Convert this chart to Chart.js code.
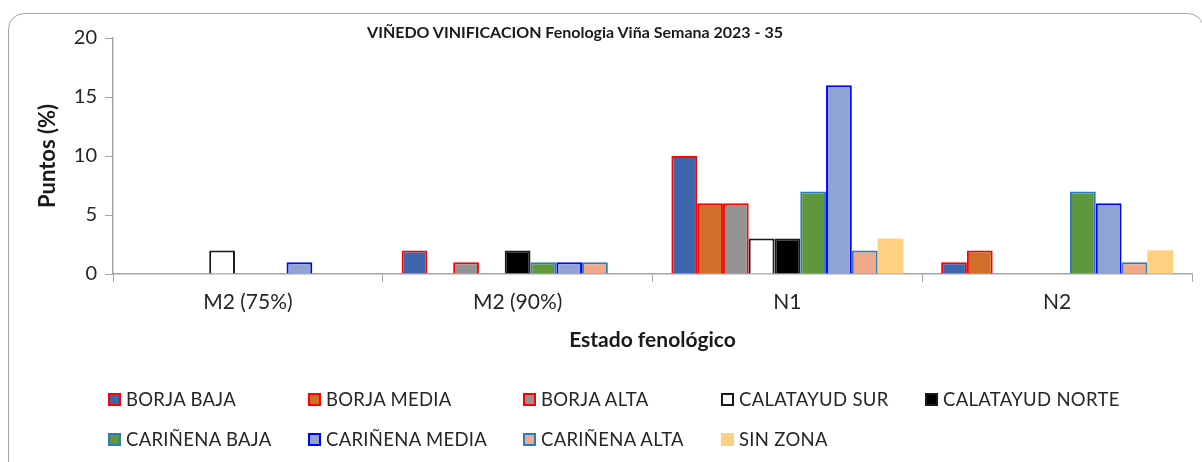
<!DOCTYPE html>
<html>
<head>
<meta charset="utf-8">
<script src="https://cdn.jsdelivr.net/npm/chart.js@4/dist/chart.umd.min.js"></script>
<style>
  body { margin: 0; background: #fff; font-family: Lato, "Open Sans", sans-serif; }
  #wrap { position: relative; width: 1202px; height: 462px; overflow: hidden; }
  #frame { position: absolute; left: 8px; top: 13px; width: 1194px; height: 470px;
           border: 1px solid #a6a6a6; border-radius: 16px; }
  #title { position: absolute; left: 575px; top: 22px; transform: translateX(-50%);
           font-weight: bold; font-size: 16px; color: #1a1a1a; white-space: nowrap; }
  #legend { position: absolute; left: 0; top: 0; }
  .item { position: absolute; display: flex; align-items: center; font-size: 18.5px;
          color: #262626; white-space: nowrap; letter-spacing: 0.3px; }
  .box { width: 13px; height: 13px; box-sizing: border-box; margin-right: 5px; }
</style>
</head>
<body>
<div id="wrap">
  <canvas id="chart" width="1202" height="462"></canvas>
  <div id="frame"></div>
  <div id="title">VIÑEDO VINIFICACION Fenologia Viña Semana 2023 - 35</div>
  <div id="legend"></div>
</div>
<script>
const categories = ["M2 (75%)", "M2 (90%)", "N1", "N2"];

const borjaBaja = [0, 2, 10, 1];
const borjaMedia = [0, 0, 6, 2];
const borjaAlta = [0, 1, 6, 0];
const calatayudSur = [2, 0, 3, 0];
const calatayudNorte = [0, 2, 3, 0];
const carinenaBaja = [0, 1, 7, 7];
const carinenaMedia = [1, 1, 16, 6];
const carinenaAlta = [0, 1, 2, 1];
const sinZona = [0, 0, 3, 2];

const yTicks = [0, 5, 10, 15, 20];

const series = [
  { label: "BORJA BAJA", data: borjaBaja, fill: "#3f65ad", line: "#ff0000" },
  { label: "BORJA MEDIA", data: borjaMedia, fill: "#d16e2a", line: "#ff0000" },
  { label: "BORJA ALTA", data: borjaAlta, fill: "#939393", line: "#ff0000" },
  { label: "CALATAYUD SUR", data: calatayudSur, fill: "#ffffff", line: "#1a1a1a" },
  { label: "CALATAYUD NORTE", data: calatayudNorte, fill: "#000000", line: "#1a1a1a" },
  { label: "CARIÑENA BAJA", data: carinenaBaja, fill: "#5f973d", line: "#2b7dc0" },
  { label: "CARIÑENA MEDIA", data: carinenaMedia, fill: "#8fa3d4", line: "#0000ff" },
  { label: "CARIÑENA ALTA", data: carinenaAlta, fill: "#f0a98a", line: "#2b7dc0" },
  { label: "SIN ZONA", data: sinZona, fill: "#ffcf82", line: null }
];

const axisColor = "#a6a6a6";
const font = "Lato";

const chart = new Chart(document.getElementById("chart"), {
  type: "bar",
  data: {
    labels: categories,
    datasets: series.map(s => ({
      label: s.label,
      data: s.data,
      backgroundColor: s.fill,
      borderColor: s.line || s.fill,
      borderWidth: s.line ? 2 : 0,
      categoryPercentage: 0.86,
      barPercentage: 1
    }))
  },
  options: {
    responsive: false,
    animation: false,
    layout: { padding: { top: 38, right: 10, bottom: 105, left: 0 } },
    plugins: {
      legend: { display: false },
      tooltip: { enabled: false }
    },
    scales: {
      x: {
        grid: { offset: true, drawOnChartArea: false, drawTicks: true, tickLength: 8, color: axisColor },
        border: { color: axisColor, width: 1.5 },
        ticks: { color: "#262626", font: { family: font, size: 21 }, padding: 8 },
        title: { display: true, text: "Estado fenológico", color: "#1a1a1a",
                 font: { family: font, size: 21, weight: "bold" } },
        afterFit: s => { s.height = 83; }
      },
      y: {
        min: 0,
        max: 20,
        afterBuildTicks: s => { s.ticks = yTicks.map(v => ({ value: v })); },
        grid: { drawOnChartArea: false, drawTicks: true, tickLength: 8, color: axisColor },
        border: { color: axisColor, width: 1.5 },
        ticks: { color: "#262626", font: { family: font, size: 20 }, padding: 8 },
        title: { display: true, text: "Puntos (%)", color: "#1a1a1a",
                 font: { family: font, size: 22, weight: "bold" }, padding: { top: 35, bottom: 4 } },
        afterFit: s => { s.width = 113; }
      }
    }
  }
});

// legend in a fixed grid like the original
const legendCols = [108, 308, 523, 721, 925];
const legendRows = [399, 439];
const legend = document.getElementById("legend");
chart.data.datasets.forEach((ds, i) => {
  const item = document.createElement("div");
  item.className = "item";
  item.style.left = legendCols[i % 5] + "px";
  item.style.top = (legendRows[Math.floor(i / 5)] - 12) + "px";
  item.style.height = "24px";
  const box = document.createElement("span");
  box.className = "box";
  box.style.background = ds.backgroundColor;
  if (ds.borderWidth) box.style.border = "2px solid " + ds.borderColor;
  item.appendChild(box);
  item.appendChild(document.createTextNode(ds.label));
  legend.appendChild(item);
});
</script>
</body>
</html>
